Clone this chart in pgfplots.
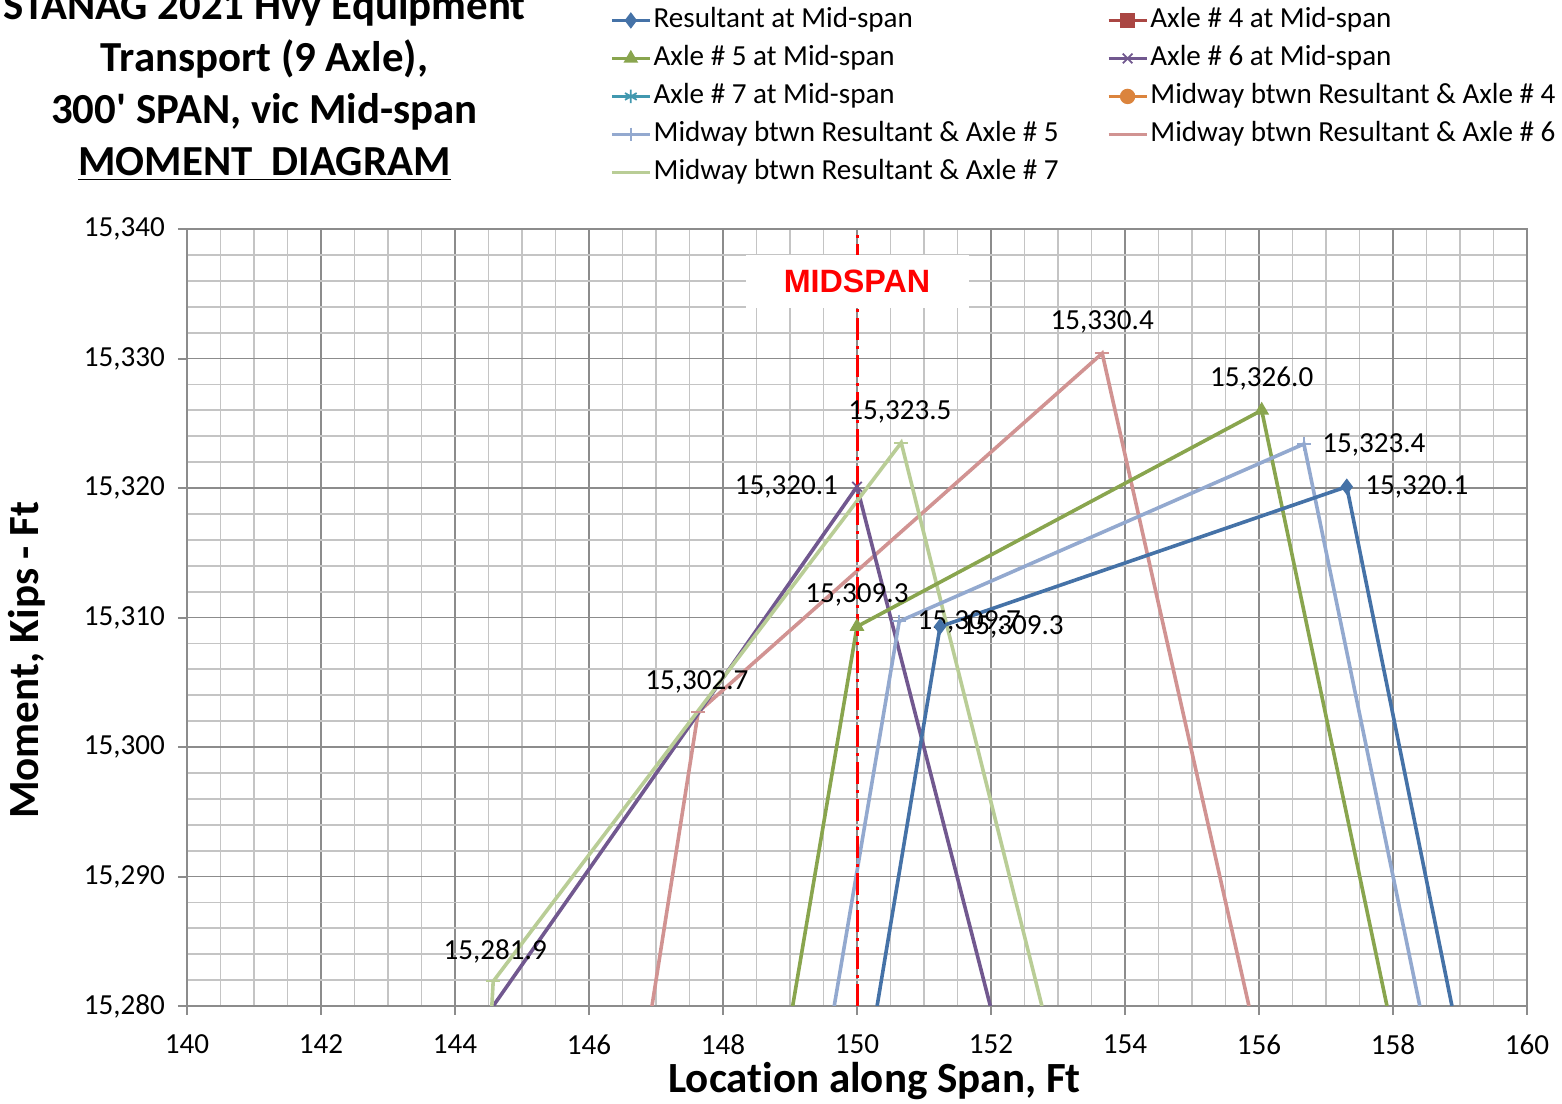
\documentclass[border=0pt]{standalone}
\usepackage{fontspec}
\setmainfont{Carlito}[Ligatures={NoCommon}]
\newfontfamily\arialfont{Liberation Sans}
\usepackage{pgfplots}
\pgfplotsset{compat=1.18}

\definecolor{cRes}{HTML}{4572A7}
\definecolor{cA4}{HTML}{AA4643}
\definecolor{cA5}{HTML}{89A54E}
\definecolor{cA6}{HTML}{71588F}
\definecolor{cA7}{HTML}{4198AF}
\definecolor{cM4}{HTML}{DB843D}
\definecolor{cM5}{HTML}{93A9CF}
\definecolor{cM6}{HTML}{D19392}
\definecolor{cM7}{HTML}{B9CD96}
\definecolor{gmaj}{HTML}{8C8C8C}
\definecolor{gmin}{HTML}{C4C4C4}

\newcommand\lab{\fontsize{14.6}{17}\selectfont}
\newcommand\ttl{\fontsize{21.5}{26}\selectfont\bfseries}

\pgfplotsset{ser/.style={line width=1.8bp, mark size=3.4bp, mark options={solid, line width=0.9bp}}}

\begin{document}
\begin{tikzpicture}
\useasboundingbox (-93.5bp,-49bp) rectangle (687.5bp,503bp);
\clip (-93.5bp,-49bp) rectangle (687.5bp,503bp);
\begin{axis}[
  at={(0,0)}, anchor=south west,
  scale only axis, width=670bp, height=388.5bp,
  xmin=140, xmax=160, ymin=15280, ymax=15340,
  xtick distance=2, ytick distance=10,
  minor x tick num=3, minor y tick num=4,
  scaled y ticks=false,
  grid=both,
  major grid style={color=gmaj, line width=0.9bp},
  minor grid style={color=gmin, line width=0.9bp},
  axis line style={color=gmaj, line width=1bp},
  tick align=outside, tick pos=left,
  major tick length=4.5bp, minor tick length=0pt,
  tick style={color=gmaj, line width=1bp},
  xticklabel style={font=\lab, yshift=-6.5bp},
  yticklabel style={font=\lab, xshift=-3bp},
  /pgf/number format/assume math mode=true,
  /pgf/number format/1000 sep={,},
  /pgf/number format/fixed,
  /pgf/number format/precision=0,
  xlabel={\fontsize{21.6}{26}\selectfont\bfseries Location along Span, Ft},
  ylabel={\fontsize{21.6}{26}\selectfont\bfseries Moment, Kips - Ft},
  xlabel style={at={(rel axis cs:0.513,-0.0965)}, anchor=center},
  ylabel style={at={(rel axis cs:-0.1194,0.445)}, anchor=center},
  legend columns=2,
  legend cell align=left,
  legend style={draw=none, fill=none, at={(0.3157,1.2858)}, anchor=north west,
    inner sep=0pt, outer sep=0pt, font=\lab, row sep=5.5bp,
    nodes={inner xsep=1bp, inner ysep=0pt, text height=10.5bp, text depth=3bp},
    /tikz/every even column/.append style={column sep=23bp}},
  legend image code/.code={\draw[mark repeat=2,mark phase=2] plot coordinates {(0bp,0bp)(9.5bp,0bp)(19bp,0bp)};},
]
% legend entries (in Excel order)
\addlegendimage{ser, cRes, mark=diamond*}
\addlegendentry{Resultant at Mid-span}
\addlegendimage{ser, cA4, mark=square*}
\addlegendentry{Axle \# 4 at Mid-span}
\addlegendimage{ser, cA5, mark=triangle*}
\addlegendentry{Axle \# 5 at Mid-span}
\addlegendimage{ser, cA6, mark=x}
\addlegendentry{Axle \# 6 at Mid-span}
\addlegendimage{ser, cA7, mark=asterisk}
\addlegendentry{Axle \# 7 at Mid-span}
\addlegendimage{ser, cM4, mark=*}
\addlegendentry{Midway btwn Resultant \& Axle \# 4}
\addlegendimage{ser, cM5, mark=+}
\addlegendentry{Midway btwn Resultant \& Axle \# 5}
\addlegendimage{ser, cM6, mark=-}
\addlegendentry{Midway btwn Resultant \& Axle \# 6}
\addlegendimage{ser, cM7, mark=-}
\addlegendentry{Midway btwn Resultant \& Axle \# 7}

% data (series out of range: Axle 4, Axle 7, Midway 4)
\addplot[forget plot, ser, cM6, mark=-, mark indices={2,3}] coordinates {(146.94,15280) (147.63,15302.7) (153.66,15330.4) (155.85,15280)};
\addplot[forget plot, ser, cA6, mark=x, mark indices={2}] coordinates {(144.57,15280) (150.00,15320.1) (151.99,15280)};
\addplot[forget plot, ser, cM7, mark=-, mark indices={2,3}] coordinates {(144.55,15280) (144.57,15281.9) (150.66,15323.5) (152.76,15280)};
\addplot[forget plot, ser, cA5, mark=triangle*, mark indices={2,3}] coordinates {(149.04,15280) (150.00,15309.3) (156.04,15326.0) (157.91,15280)};
\addplot[forget plot, ser, cM5, mark=+, mark indices={2,3}] coordinates {(149.66,15280) (150.63,15309.7) (156.67,15323.4) (158.40,15280)};
\addplot[forget plot, ser, cRes, mark=diamond*, mark indices={2,3}] coordinates {(150.30,15280) (151.24,15309.3) (157.31,15320.1) (158.88,15280)};

% midspan line
\addplot[forget plot, red, line width=1.5bp, dash pattern=on 11bp off 3bp on 1.5bp off 3bp] coordinates {(150,15280) (150,15340)};
\node[fill=white, inner sep=0pt, minimum width=111.5bp, minimum height=26.5bp, text=red, font=\arialfont\bfseries\fontsize{16.2}{19}\selectfont] at (axis cs:150,15335.98) {MIDSPAN};

% data labels
\begin{scope}[every node/.style={font=\lab, inner sep=0pt}]
\node at (axis cs:153.66,15332.8) {15,330.4};
\node at (axis cs:156.04,15328.42) {15,326.0};
\node[anchor=west] at (axis cs:156.94,15323.32) {15,323.4};
\node[anchor=west] at (axis cs:157.58,15320.08) {15,320.1};
\node at (axis cs:150.64,15325.87) {15,323.5};
\node[anchor=east] at (axis cs:149.72,15320.08) {15,320.1};
\node at (axis cs:150.0,15311.74) {15,309.3};
\node[anchor=west] at (axis cs:150.90,15309.65) {15,309.7};
\node[anchor=west] at (axis cs:151.54,15309.27) {15,309.3};
\node at (axis cs:147.61,15305.02) {15,302.7};
\node at (axis cs:144.60,15284.25) {15,281.9};
\end{scope}
\end{axis}
% chart title
\node[font=\ttl, anchor=base, inner sep=0pt] at (38.75bp,493bp) {STANAG 2021 Hvy Equipment};
\node[font=\ttl, anchor=base, inner sep=0pt] at (38.75bp,467bp) {Transport (9 Axle),};
\node[font=\ttl, anchor=base, inner sep=0pt] at (38.75bp,441bp) {300\textquotesingle{} SPAN, vic Mid-span};
\node[font=\ttl, anchor=base, inner sep=0pt] at (38.75bp,415bp) {\underline{MOMENT\ \ DIAGRAM}};
\end{tikzpicture}
\end{document}
